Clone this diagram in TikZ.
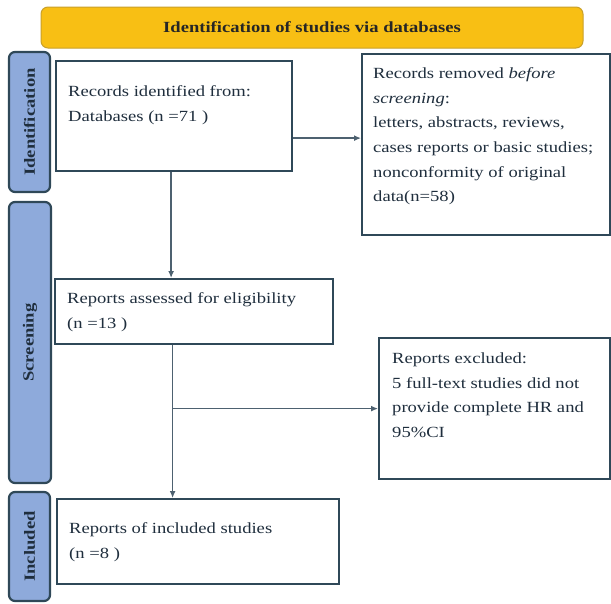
\documentclass[tikz,border=0pt]{standalone}
\usepackage{fontspec}
\setmainfont{Liberation Serif}[FakeStretch=1.2]
\usetikzlibrary{positioning, arrows.meta}
\definecolor{bannergold}{HTML}{F8BF14}
\definecolor{bannerline}{HTML}{C9A02A}
\definecolor{tabblue}{HTML}{8EAADB}
\definecolor{boxline}{HTML}{2F4858}
\definecolor{inktext}{HTML}{1F2E3D}
\definecolor{flowline}{HTML}{4D6170}

\begin{document}
\begin{tikzpicture}[x=1pt, y=-1pt, >={Latex[length=7pt,width=6pt]},
  stagebox/.style={draw=boxline, line width=2.2pt, fill=white, inner sep=0pt, anchor=north west},
  boxtext/.style={anchor=north west, inner sep=0pt, align=left, text=inktext, font=\fontsize{15.5}{24.6}\selectfont},
  phasetab/.style={draw=boxline, line width=2.2pt, fill=tabblue, rounded corners=6pt, inner sep=0pt, rotate=90, text=inktext, font=\fontsize{15.5}{18}\selectfont\bfseries},
  flow/.style={draw=flowline, line width=1.3pt}]
\path[use as bounding box, fill=white] (0,0) rectangle (611,603);
% banner
\node (banner) [draw=bannerline, fill=bannergold, rounded corners=7pt, line width=1pt, minimum width=542, minimum height=41, font=\fontsize{15.5}{18}\selectfont\bfseries, text=black!85] at (312,27.5) {Identification of studies via databases};
% phase tabs
\node (idtab) [phasetab, minimum width=140, minimum height=41] at (29.5,122) {Identification};
\node (scrtab) [phasetab, minimum width=281, minimum height=42] at (30,342.5) {Screening};
\node (inctab) [phasetab, minimum width=109, minimum height=41] at (29.5,546.5) {Included};
% boxes
\node (records) [stagebox, minimum width=236, minimum height=110] at (55,60) {};
\node (recordstext) [boxtext] at ([shift={(13,25.5)}]records.north west) {Records identified from:\\Databases (n =71 )};
\node (removed) [stagebox, minimum width=248, minimum height=181] at (361,53) {};
\node (removedtext) [boxtext] at ([shift={(12,14.5)}]removed.north west) {Records removed \textit{before}\\\textit{screening}:\\letters, abstracts, reviews,\\cases reports or basic studies;\\nonconformity of original\\data(n=58)};
\node (assessed) [stagebox, minimum width=278, minimum height=65] at (54,278) {};
\node (assessedtext) [boxtext] at ([shift={(13,14.5)}]assessed.north west) {Reports assessed for eligibility\\(n =13 )};
\node (excluded) [stagebox, minimum width=231, minimum height=141] at (378,337) {};
\node (excludedtext) [boxtext] at ([shift={(14,15.5)}]excluded.north west) {Reports excluded:\\5 full-text studies did not\\provide complete HR and\\95\%CI};
\node (included) [stagebox, minimum width=282, minimum height=85] at (56,498) {};
\node (includedtext) [boxtext] at ([shift={(13,24.5)}]included.north west) {Reports of included studies\\(n =8 )};
% connectors
\coordinate (toremoved) at ([yshift=6.5pt]removed.west);
\coordinate (downone) at ([xshift=-3pt]records.south);
\coordinate (downtwo) at ([xshift=-21.5pt]assessed.south);
\draw[flow, ->] (records.east |- toremoved) -- (toremoved);
\draw[flow, ->] (downone) -- (downone |- assessed.north);
\draw[flow, ->] (downtwo) -- (downtwo |- included.north);
\draw[flow, ->] (downtwo |- excluded.west) -- (excluded.west);
\end{tikzpicture}
\end{document}
